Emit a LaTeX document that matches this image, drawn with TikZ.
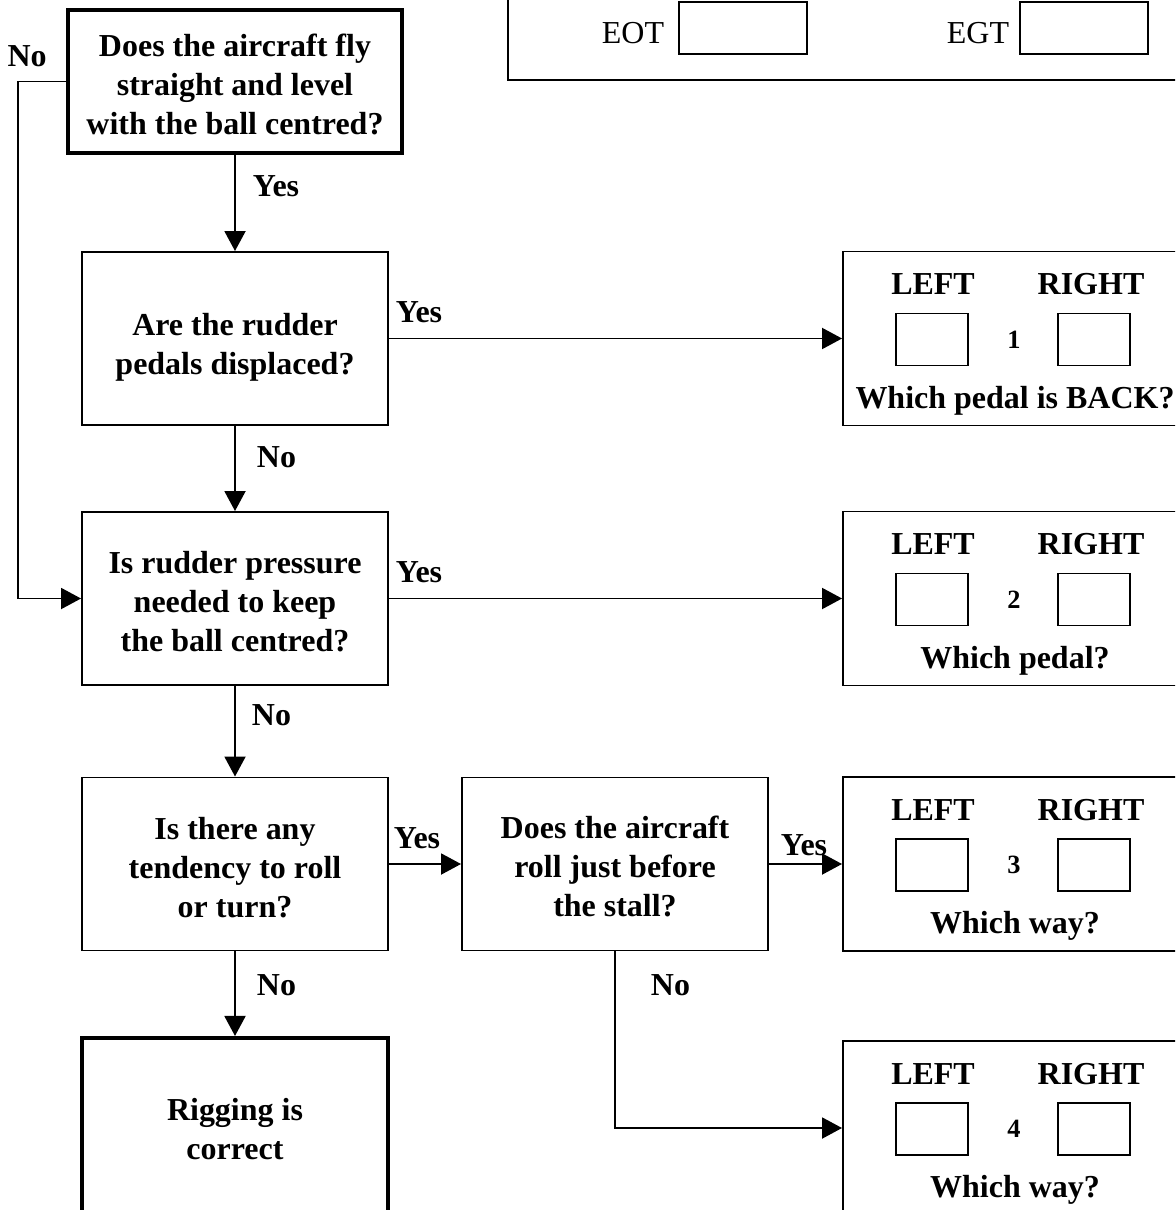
\documentclass[tikz,border=0pt]{standalone}
\usepackage{fontspec}
\setmainfont{Liberation Serif}
\usetikzlibrary{arrows.meta}
\newcommand\topgap[1]{\rule{0pt}{#1}}
\tikzset{
  question/.style = {rectangle, draw=black, line width=1.1pt, minimum width=6.12cm,
                     minimum height=3.46cm, align=center, inner sep=0pt,
                     font=\fontsize{18.2}{22.2}\selectfont\bfseries},
  endbox/.style   = {question, line width=2.3pt},
  answer/.style   = {rectangle, draw=black, line width=1.1pt, minimum width=6.8cm, minimum height=3.48cm},
  tickbox/.style  = {rectangle, draw=black, line width=0.8pt, minimum width=1.44cm, minimum height=1.04cm},
  word/.style     = {inner sep=0pt, font=\fontsize{18.2}{22.2}\selectfont\bfseries},
  flow/.style     = {-{Triangle[length=0.4cm, width=0.42cm]}, line width=1.1pt},
}
\begin{document}
\begin{tikzpicture}
  \useasboundingbox (0,0) rectangle (23.5,-24.2);
  \clip (0,0) rectangle (23.5,-24.2);

  % engine readings
  \node[rectangle, draw=black, line width=1.1pt, minimum width=15.84cm, minimum height=2.4cm] (engine) at (18.08,-0.40) {};
  \node[word, font=\fontsize{18.2}{22.2}\selectfont] (eot) at (12.66,-0.66) {EOT};
  \node[tickbox, minimum width=2.56cm] (eotbox) at (14.86,-0.56) {};
  \node[word, font=\fontsize{18.2}{22.2}\selectfont] (egt) at (19.56,-0.66) {EGT};
  \node[tickbox, minimum width=2.56cm] (egtbox) at (21.68,-0.56) {};

  % questions
  \node[endbox, minimum width=6.68cm, minimum height=2.86cm] (fly) at (4.70,-1.63) {\topgap{0.56cm}Does the aircraft fly\\straight and level\\with the ball centred?};
  \node[question] (pedals)   at (4.70,-6.77)  {\topgap{0.78cm}Are the rudder\\pedals displaced?};
  \node[question] (pressure) at (4.70,-11.97) {\topgap{0.56cm}Is rudder pressure\\needed to keep\\the ball centred?};
  \node[question] (roll)     at (4.70,-17.28) {\topgap{0.58cm}Is there any\\tendency to roll\\or turn?};
  \node[question] (stall)    at (12.30,-17.28) {\topgap{0.54cm}Does the aircraft\\roll just before\\the stall?};
  \node[endbox, minimum height=3.64cm] (correct) at (4.70,-22.58) {Rigging is\\correct};

  % answer boxes
  \foreach \n/\y/\q in {1/-6.77/Which pedal is BACK?, 2/-11.97/Which pedal?, 3/-17.28/Which way?, 4/-22.56/Which way?} {
    \node[answer] (ans\n) at (20.26,\y) {};
    \node[word] (left\n)  at (18.66,\y+1.08) {LEFT};
    \node[word] (right\n) at (21.82,\y+1.08) {RIGHT};
    \node[tickbox] (lbox\n) at (18.64,\y-0.02) {};
    \node[tickbox] (rbox\n) at (21.88,\y-0.02) {};
    \node[word, font=\fontsize{15}{17}\selectfont\bfseries] (num\n) at (20.28,\y-0.02) {\n};
    \node[word] (ask\n) at (20.30,\y-1.24) {\q};
  }

  \draw[flow] (fly.south) -- node[word, pos=0.32, anchor=west, xshift=0.34cm]{Yes} (pedals.north);
  \draw[flow] (fly.west) -- node[word, pos=0.81, above=0.27cm]{No} ++(-0.96,0) |- (pressure.west);
  \draw[flow] (pedals.east) -- node[word, pos=0, anchor=base west, xshift=0.12cm, yshift=0.32cm]{Yes} (ans1.west);
  \draw[flow] (pedals.south) -- node[word, pos=0.37, anchor=west, xshift=0.42cm]{No} (pressure.north);
  \draw[flow] (pressure.east) -- node[word, pos=0, anchor=base west, xshift=0.12cm, yshift=0.32cm]{Yes} (ans2.west);
  \draw[flow] (pressure.south) -- node[word, pos=0.32, anchor=west, xshift=0.32cm]{No} (roll.north);
  \draw[flow] (roll.east) -- node[word, pos=0, anchor=base west, xshift=0.08cm, yshift=0.32cm]{Yes} (stall.west);
  \draw[flow] (roll.south) -- node[word, pos=0.40, anchor=west, xshift=0.42cm]{No} (correct.north);
  \draw[flow] (stall.east) -- node[word, pos=0, anchor=base west, xshift=0.22cm, yshift=0.18cm]{Yes} (ans3.west);
  \draw[flow] (stall.south) |- node[word, pos=0.095, anchor=west, xshift=0.7cm]{No} (ans4.west);
\end{tikzpicture}
\end{document}
